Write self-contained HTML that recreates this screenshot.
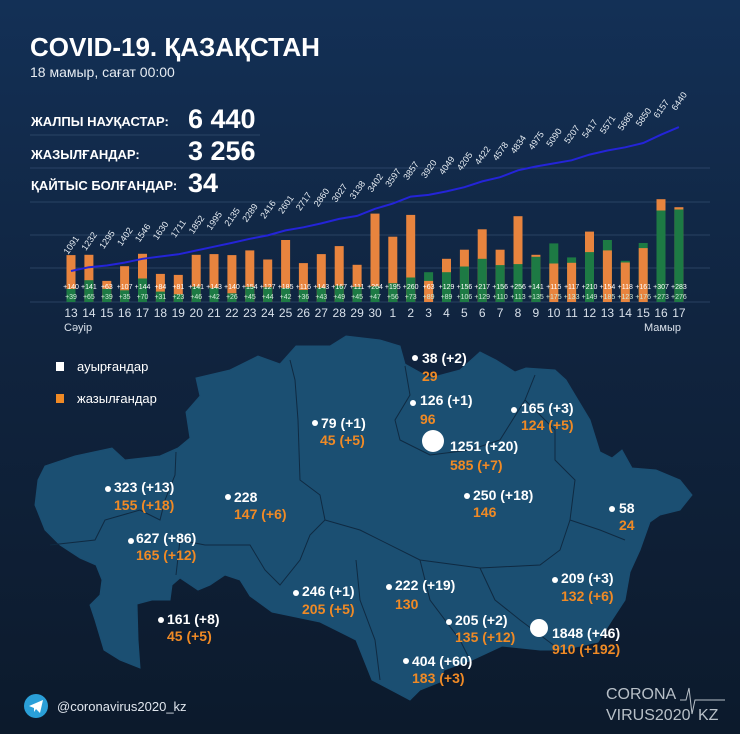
<!DOCTYPE html>
<html><head><meta charset="utf-8"><style>
html,body{margin:0;padding:0;background:#0f2238}
svg{display:block}
text{font-family:"Liberation Sans","DejaVu Sans",sans-serif}
.o{fill:#e8843e}.g{fill:#1d7a44}
.t{font-size:9px;fill:#e8eef4}
.c{font-size:7px;fill:#fff;text-anchor:middle}
.r{font-size:7px;fill:#cfe8d8;text-anchor:middle}
.d{font-size:12px;fill:#d8e0ea;text-anchor:middle}
</style></head><body>
<svg width="740" height="734" viewBox="0 0 740 734" xmlns="http://www.w3.org/2000/svg">
<defs>
<linearGradient id="bg" x1="0" y1="0" x2="0" y2="1">
<stop offset="0" stop-color="#133056"/><stop offset="0.45" stop-color="#10243f"/><stop offset="1" stop-color="#0c1a2c"/>
</linearGradient>
</defs>
<rect width="740" height="734" fill="url(#bg)"/>
<text x="30" y="56" font-size="26" font-weight="bold" fill="#fff">COVID-19. ҚАЗАҚСТАН</text>
<text x="30" y="77" font-size="14" fill="#e6ecf2">18 мамыр, сағат 00:00</text>
<text x="31" y="126" font-size="13" font-weight="bold" fill="#fff">ЖАЛПЫ НАУҚАСТАР:</text>
<text x="188" y="128" font-size="27" font-weight="bold" fill="#fff">6 440</text>
<text x="31" y="159" font-size="13" font-weight="bold" fill="#fff">ЖАЗЫЛҒАНДАР:</text>
<text x="188" y="160" font-size="27" font-weight="bold" fill="#fff">3 256</text>
<text x="31" y="190" font-size="13" font-weight="bold" fill="#fff">ҚАЙТЫС БОЛҒАНДАР:</text>
<text x="188" y="192" font-size="27" font-weight="bold" fill="#fff">34</text>
<g stroke="#3a5577" stroke-width="1" opacity="0.6">
<line x1="30" y1="135" x2="260" y2="135"/>
<line x1="30" y1="168" x2="710" y2="168"/>
<line x1="30" y1="202" x2="710" y2="202"/>
<line x1="30" y1="235" x2="710" y2="235"/>
<line x1="30" y1="268" x2="710" y2="268"/>
<line x1="30" y1="302" x2="710" y2="302"/>
</g>

<g transform="translate(71,0)"><rect class="o" x="-4.5" width="9" y="255.1" height="46.9"/><rect class="g" x="-4.5" width="9" y="288.9" height="13.1"/></g>
<g transform="translate(88.9,0)"><rect class="o" x="-4.5" width="9" y="254.8" height="47.2"/><rect class="g" x="-4.5" width="9" y="280.2" height="21.8"/></g>
<g transform="translate(106.8,0)"><rect class="o" x="-4.5" width="9" y="280.9" height="21.1"/><rect class="g" x="-4.5" width="9" y="288.9" height="13.1"/></g>
<g transform="translate(124.6,0)"><rect class="o" x="-4.5" width="9" y="266.2" height="35.8"/><rect class="g" x="-4.5" width="9" y="290.3" height="11.7"/></g>
<g transform="translate(142.5,0)"><rect class="o" x="-4.5" width="9" y="253.8" height="48.2"/><rect class="g" x="-4.5" width="9" y="278.5" height="23.5"/></g>
<g transform="translate(160.4,0)"><rect class="o" x="-4.5" width="9" y="273.9" height="28.1"/><rect class="g" x="-4.5" width="9" y="291.6" height="10.4"/></g>
<g transform="translate(178.3,0)"><rect class="o" x="-4.5" width="9" y="274.9" height="27.1"/><rect class="g" x="-4.5" width="9" y="294.3" height="7.7"/></g>
<g transform="translate(196.2,0)"><rect class="o" x="-4.5" width="9" y="254.8" height="47.2"/><rect class="g" x="-4.5" width="9" y="286.6" height="15.4"/></g>
<g transform="translate(214,0)"><rect class="o" x="-4.5" width="9" y="254.1" height="47.9"/><rect class="g" x="-4.5" width="9" y="287.9" height="14.1"/></g>
<g transform="translate(231.9,0)"><rect class="o" x="-4.5" width="9" y="255.1" height="46.9"/><rect class="g" x="-4.5" width="9" y="293.3" height="8.7"/></g>
<g transform="translate(249.8,0)"><rect class="o" x="-4.5" width="9" y="250.4" height="51.6"/><rect class="g" x="-4.5" width="9" y="286.9" height="15.1"/></g>
<g transform="translate(267.7,0)"><rect class="o" x="-4.5" width="9" y="259.5" height="42.5"/><rect class="g" x="-4.5" width="9" y="287.3" height="14.7"/></g>
<g transform="translate(285.6,0)"><rect class="o" x="-4.5" width="9" y="240" height="62"/><rect class="g" x="-4.5" width="9" y="287.9" height="14.1"/></g>
<g transform="translate(303.4,0)"><rect class="o" x="-4.5" width="9" y="263.1" height="38.9"/><rect class="g" x="-4.5" width="9" y="289.9" height="12.1"/></g>
<g transform="translate(321.3,0)"><rect class="o" x="-4.5" width="9" y="254.1" height="47.9"/><rect class="g" x="-4.5" width="9" y="287.6" height="14.4"/></g>
<g transform="translate(339.2,0)"><rect class="o" x="-4.5" width="9" y="246.1" height="55.9"/><rect class="g" x="-4.5" width="9" y="285.6" height="16.4"/></g>
<g transform="translate(357.1,0)"><rect class="o" x="-4.5" width="9" y="264.8" height="37.2"/><rect class="g" x="-4.5" width="9" y="286.9" height="15.1"/></g>
<g transform="translate(375,0)"><rect class="o" x="-4.5" width="9" y="213.6" height="88.4"/><rect class="g" x="-4.5" width="9" y="286.3" height="15.7"/></g>
<g transform="translate(392.8,0)"><rect class="o" x="-4.5" width="9" y="236.7" height="65.3"/><rect class="g" x="-4.5" width="9" y="283.2" height="18.8"/></g>
<g transform="translate(410.7,0)"><rect class="o" x="-4.5" width="9" y="214.9" height="87.1"/><rect class="g" x="-4.5" width="9" y="277.5" height="24.5"/></g>
<g transform="translate(428.6,0)"><rect class="g" x="-4.5" width="9" y="272.2" height="29.8"/><rect class="o" x="-4.5" width="9" y="280.9" height="21.1"/></g>
<g transform="translate(446.5,0)"><rect class="o" x="-4.5" width="9" y="258.8" height="43.2"/><rect class="g" x="-4.5" width="9" y="272.2" height="29.8"/></g>
<g transform="translate(464.4,0)"><rect class="o" x="-4.5" width="9" y="249.7" height="52.3"/><rect class="g" x="-4.5" width="9" y="266.5" height="35.5"/></g>
<g transform="translate(482.2,0)"><rect class="o" x="-4.5" width="9" y="229.3" height="72.7"/><rect class="g" x="-4.5" width="9" y="258.8" height="43.2"/></g>
<g transform="translate(500.1,0)"><rect class="o" x="-4.5" width="9" y="249.7" height="52.3"/><rect class="g" x="-4.5" width="9" y="265.1" height="36.9"/></g>
<g transform="translate(518,0)"><rect class="o" x="-4.5" width="9" y="216.2" height="85.8"/><rect class="g" x="-4.5" width="9" y="264.1" height="37.9"/></g>
<g transform="translate(535.9,0)"><rect class="o" x="-4.5" width="9" y="254.8" height="47.2"/><rect class="g" x="-4.5" width="9" y="256.8" height="45.2"/></g>
<g transform="translate(553.8,0)"><rect class="g" x="-4.5" width="9" y="243.4" height="58.6"/><rect class="o" x="-4.5" width="9" y="263.5" height="38.5"/></g>
<g transform="translate(571.6,0)"><rect class="g" x="-4.5" width="9" y="257.4" height="44.6"/><rect class="o" x="-4.5" width="9" y="262.8" height="39.2"/></g>
<g transform="translate(589.5,0)"><rect class="o" x="-4.5" width="9" y="231.6" height="70.4"/><rect class="g" x="-4.5" width="9" y="252.1" height="49.9"/></g>
<g transform="translate(607.4,0)"><rect class="g" x="-4.5" width="9" y="240" height="62"/><rect class="o" x="-4.5" width="9" y="250.4" height="51.6"/></g>
<g transform="translate(625.3,0)"><rect class="g" x="-4.5" width="9" y="260.8" height="41.2"/><rect class="o" x="-4.5" width="9" y="262.5" height="39.5"/></g>
<g transform="translate(643.2,0)"><rect class="g" x="-4.5" width="9" y="243" height="59"/><rect class="o" x="-4.5" width="9" y="248.1" height="53.9"/></g>
<g transform="translate(661,0)"><rect class="o" x="-4.5" width="9" y="199.2" height="102.8"/><rect class="g" x="-4.5" width="9" y="210.5" height="91.5"/></g>
<g transform="translate(678.9,0)"><rect class="o" x="-4.5" width="9" y="207.2" height="94.8"/><rect class="g" x="-4.5" width="9" y="209.5" height="92.5"/></g>

<polyline fill="none" stroke="#2424d8" stroke-width="2" points="71,271 88.9,267.2 106.8,265.5 124.6,262.6 142.5,258.8 160.4,256.5 178.3,254.3 196.2,250.5 214,246.7 231.9,242.9 249.8,238.8 267.7,235.4 285.6,230.4 303.4,227.3 321.3,223.4 339.2,218.9 357.1,215.9 375,208.8 392.8,203.6 410.7,196.6 428.6,194.9 446.5,191.4 464.4,187.2 482.2,181.4 500.1,177.2 518,170.3 535.9,166.5 553.8,163.4 571.6,160.3 589.5,154.6 607.4,150.5 625.3,147.3 643.2,143 661,134.7 678.9,127.1"/>

<g class="t">
<text class="t" transform="translate(68,255) rotate(-55)">1091</text>
<text class="t" transform="translate(85.9,251.2) rotate(-55)">1232</text>
<text class="t" transform="translate(103.8,249.5) rotate(-55)">1295</text>
<text class="t" transform="translate(121.6,246.6) rotate(-55)">1402</text>
<text class="t" transform="translate(139.5,242.8) rotate(-55)">1546</text>
<text class="t" transform="translate(157.4,240.5) rotate(-55)">1630</text>
<text class="t" transform="translate(175.3,238.3) rotate(-55)">1711</text>
<text class="t" transform="translate(193.2,234.5) rotate(-55)">1852</text>
<text class="t" transform="translate(211,230.7) rotate(-55)">1995</text>
<text class="t" transform="translate(228.9,226.9) rotate(-55)">2135</text>
<text class="t" transform="translate(246.8,222.8) rotate(-55)">2289</text>
<text class="t" transform="translate(264.7,219.4) rotate(-55)">2416</text>
<text class="t" transform="translate(282.6,214.4) rotate(-55)">2601</text>
<text class="t" transform="translate(300.4,211.3) rotate(-55)">2717</text>
<text class="t" transform="translate(318.3,207.4) rotate(-55)">2860</text>
<text class="t" transform="translate(336.2,202.9) rotate(-55)">3027</text>
<text class="t" transform="translate(354.1,199.9) rotate(-55)">3138</text>
<text class="t" transform="translate(372,192.8) rotate(-55)">3402</text>
<text class="t" transform="translate(389.8,187.6) rotate(-55)">3597</text>
<text class="t" transform="translate(407.7,180.6) rotate(-55)">3857</text>
<text class="t" transform="translate(425.6,178.9) rotate(-55)">3920</text>
<text class="t" transform="translate(443.5,175.4) rotate(-55)">4049</text>
<text class="t" transform="translate(461.4,171.2) rotate(-55)">4205</text>
<text class="t" transform="translate(479.2,165.4) rotate(-55)">4422</text>
<text class="t" transform="translate(497.1,161.2) rotate(-55)">4578</text>
<text class="t" transform="translate(515,154.3) rotate(-55)">4834</text>
<text class="t" transform="translate(532.9,150.5) rotate(-55)">4975</text>
<text class="t" transform="translate(550.8,147.4) rotate(-55)">5090</text>
<text class="t" transform="translate(568.6,144.3) rotate(-55)">5207</text>
<text class="t" transform="translate(586.5,138.6) rotate(-55)">5417</text>
<text class="t" transform="translate(604.4,134.5) rotate(-55)">5571</text>
<text class="t" transform="translate(622.3,131.3) rotate(-55)">5689</text>
<text class="t" transform="translate(640.2,127) rotate(-55)">5850</text>
<text class="t" transform="translate(658,118.7) rotate(-55)">6157</text>
<text class="t" transform="translate(675.9,111.1) rotate(-55)">6440</text>
</g>

<text class="c" x="71" y="289">+140</text><text class="r" x="71" y="299">+39</text><text class="d" x="71" y="317">13</text>
<text class="c" x="88.9" y="289">+141</text><text class="r" x="88.9" y="299">+65</text><text class="d" x="88.9" y="317">14</text>
<text class="c" x="106.8" y="289">+63</text><text class="r" x="106.8" y="299">+39</text><text class="d" x="106.8" y="317">15</text>
<text class="c" x="124.6" y="289">+107</text><text class="r" x="124.6" y="299">+35</text><text class="d" x="124.6" y="317">16</text>
<text class="c" x="142.5" y="289">+144</text><text class="r" x="142.5" y="299">+70</text><text class="d" x="142.5" y="317">17</text>
<text class="c" x="160.4" y="289">+84</text><text class="r" x="160.4" y="299">+31</text><text class="d" x="160.4" y="317">18</text>
<text class="c" x="178.3" y="289">+81</text><text class="r" x="178.3" y="299">+23</text><text class="d" x="178.3" y="317">19</text>
<text class="c" x="196.2" y="289">+141</text><text class="r" x="196.2" y="299">+46</text><text class="d" x="196.2" y="317">20</text>
<text class="c" x="214" y="289">+143</text><text class="r" x="214" y="299">+42</text><text class="d" x="214" y="317">21</text>
<text class="c" x="231.9" y="289">+140</text><text class="r" x="231.9" y="299">+26</text><text class="d" x="231.9" y="317">22</text>
<text class="c" x="249.8" y="289">+154</text><text class="r" x="249.8" y="299">+45</text><text class="d" x="249.8" y="317">23</text>
<text class="c" x="267.7" y="289">+127</text><text class="r" x="267.7" y="299">+44</text><text class="d" x="267.7" y="317">24</text>
<text class="c" x="285.6" y="289">+185</text><text class="r" x="285.6" y="299">+42</text><text class="d" x="285.6" y="317">25</text>
<text class="c" x="303.4" y="289">+116</text><text class="r" x="303.4" y="299">+36</text><text class="d" x="303.4" y="317">26</text>
<text class="c" x="321.3" y="289">+143</text><text class="r" x="321.3" y="299">+43</text><text class="d" x="321.3" y="317">27</text>
<text class="c" x="339.2" y="289">+167</text><text class="r" x="339.2" y="299">+49</text><text class="d" x="339.2" y="317">28</text>
<text class="c" x="357.1" y="289">+111</text><text class="r" x="357.1" y="299">+45</text><text class="d" x="357.1" y="317">29</text>
<text class="c" x="375" y="289">+264</text><text class="r" x="375" y="299">+47</text><text class="d" x="375" y="317">30</text>
<text class="c" x="392.8" y="289">+195</text><text class="r" x="392.8" y="299">+56</text><text class="d" x="392.8" y="317">1</text>
<text class="c" x="410.7" y="289">+260</text><text class="r" x="410.7" y="299">+73</text><text class="d" x="410.7" y="317">2</text>
<text class="c" x="428.6" y="289">+63</text><text class="r" x="428.6" y="299">+89</text><text class="d" x="428.6" y="317">3</text>
<text class="c" x="446.5" y="289">+129</text><text class="r" x="446.5" y="299">+89</text><text class="d" x="446.5" y="317">4</text>
<text class="c" x="464.4" y="289">+156</text><text class="r" x="464.4" y="299">+106</text><text class="d" x="464.4" y="317">5</text>
<text class="c" x="482.2" y="289">+217</text><text class="r" x="482.2" y="299">+129</text><text class="d" x="482.2" y="317">6</text>
<text class="c" x="500.1" y="289">+156</text><text class="r" x="500.1" y="299">+110</text><text class="d" x="500.1" y="317">7</text>
<text class="c" x="518" y="289">+256</text><text class="r" x="518" y="299">+113</text><text class="d" x="518" y="317">8</text>
<text class="c" x="535.9" y="289">+141</text><text class="r" x="535.9" y="299">+135</text><text class="d" x="535.9" y="317">9</text>
<text class="c" x="553.8" y="289">+115</text><text class="r" x="553.8" y="299">+175</text><text class="d" x="553.8" y="317">10</text>
<text class="c" x="571.6" y="289">+117</text><text class="r" x="571.6" y="299">+133</text><text class="d" x="571.6" y="317">11</text>
<text class="c" x="589.5" y="289">+210</text><text class="r" x="589.5" y="299">+149</text><text class="d" x="589.5" y="317">12</text>
<text class="c" x="607.4" y="289">+154</text><text class="r" x="607.4" y="299">+185</text><text class="d" x="607.4" y="317">13</text>
<text class="c" x="625.3" y="289">+118</text><text class="r" x="625.3" y="299">+123</text><text class="d" x="625.3" y="317">14</text>
<text class="c" x="643.2" y="289">+161</text><text class="r" x="643.2" y="299">+176</text><text class="d" x="643.2" y="317">15</text>
<text class="c" x="661" y="289">+307</text><text class="r" x="661" y="299">+273</text><text class="d" x="661" y="317">16</text>
<text class="c" x="678.9" y="289">+283</text><text class="r" x="678.9" y="299">+276</text><text class="d" x="678.9" y="317">17</text>

<text x="64" y="331" font-size="11" fill="#d8e0ea">Сәуір</text>
<text x="644" y="331" font-size="11" fill="#d8e0ea">Мамыр</text>

<path fill="#1b4f72" stroke="#1b4f72" stroke-width="1" d="M35,505 L38,480 L45,466 L75,456 L112,448 L125,460 L160,456 L178,448 L190,438 L186,412 L200,396 L196,378 L230,370 L258,356 L280,364 L296,346 L330,346 L346,336 L380,340 L400,346 L405,364 L430,378 L460,370 L480,352 L496,360 L515,372 L526,368 L555,370 L566,380 L590,420 L600,452 L612,458 L622,450 L632,468 L656,470 L680,480 L692,495 L680,510 L660,515 L650,522 L640,550 L630,572 L625,600 L612,620 L598,642 L562,650 L540,650 L502,646 L472,660 L444,670 L440,682 L420,690 L410,700 L395,692 L372,680 L356,640 L320,622 L272,612 L250,596 L240,580 L225,575 L210,585 L198,590 L180,578 L172,585 L170,600 L152,600 L137,604 L138,640 L140,668 L120,660 L104,650 L95,620 L90,605 L100,595 L102,580 L96,565 L80,558 L60,545 L45,530 Z"/>
<g fill="none" stroke="#0f2a42" stroke-width="1">
<path d="M50,545 L95,540 L105,520 L140,510 L160,520 L165,500 L175,475 L176,452"/>
<path d="M176,575 L180,540 L205,545 L250,545 L265,570 L280,585 L300,560 L310,535 L325,520 L320,495 L300,480 L298,420 L295,380 L290,360"/>
<path d="M325,520 L360,530 L420,560 L480,568 L540,565 L560,550 L570,520 L575,480 L555,460 L555,430 L540,415 L525,400 L535,375"/>
<path d="M356,560 L360,600 L375,640 L380,680"/>
<path d="M420,560 L430,600 L460,640 L470,660"/>
<path d="M480,568 L495,600 L520,620 L560,650"/>
<path d="M405,366 L410,395 L395,420 L400,440 L430,455 L470,450 L500,440 L525,400"/>
<path d="M570,520 L600,530 L625,540"/>
</g>

<rect x="56" y="362" width="8" height="9" fill="#fff"/>
<text x="77" y="371" font-size="13" fill="#fff">ауырғандар</text>
<rect x="56" y="394" width="8" height="9" fill="#f08a25"/>
<text x="77" y="403" font-size="13" fill="#fff">жазылғандар</text>

<g font-size="14" font-weight="bold" fill="#fff">
<circle cx="415" cy="358" r="3"/><text x="422" y="363">38 (+2)</text>
<circle cx="413" cy="403" r="3"/><text x="420" y="405">126 (+1)</text>
<circle cx="514" cy="410" r="3"/><text x="521" y="413">165 (+3)</text>
<circle cx="315" cy="423" r="3"/><text x="321" y="428">79 (+1)</text>
<circle cx="433" cy="441" r="11"/><text x="450" y="451">1251 (+20)</text>
<circle cx="108" cy="489" r="3"/><text x="114" y="492">323 (+13)</text>
<circle cx="228" cy="497" r="3"/><text x="234" y="502">228</text>
<circle cx="467" cy="496" r="3"/><text x="473" y="500">250 (+18)</text>
<circle cx="612" cy="509" r="3"/><text x="619" y="513">58</text>
<circle cx="131" cy="541" r="3"/><text x="136" y="543">627 (+86)</text>
<circle cx="555" cy="580" r="3"/><text x="561" y="583">209 (+3)</text>
<circle cx="296" cy="593" r="3"/><text x="302" y="596">246 (+1)</text>
<circle cx="389" cy="587" r="3"/><text x="395" y="590">222 (+19)</text>
<circle cx="161" cy="620" r="3"/><text x="167" y="624">161 (+8)</text>
<circle cx="449" cy="622" r="3"/><text x="455" y="625">205 (+2)</text>
<circle cx="539" cy="628" r="9"/><text x="552" y="638">1848 (+46)</text>
<circle cx="406" cy="661" r="3"/><text x="412" y="666">404 (+60)</text>
</g>
<g font-size="14" font-weight="bold" fill="#f08a25">
<text x="422" y="381">29</text>
<text x="420" y="424">96</text>
<text x="521" y="430">124 (+5)</text>
<text x="320" y="445">45 (+5)</text>
<text x="450" y="470">585 (+7)</text>
<text x="114" y="510">155 (+18)</text>
<text x="234" y="519">147 (+6)</text>
<text x="473" y="517">146</text>
<text x="619" y="530">24</text>
<text x="136" y="560">165 (+12)</text>
<text x="561" y="601">132 (+6)</text>
<text x="302" y="614">205 (+5)</text>
<text x="395" y="609">130</text>
<text x="167" y="641">45 (+5)</text>
<text x="455" y="642">135 (+12)</text>
<text x="552" y="654">910 (+192)</text>
<text x="412" y="683">183 (+3)</text>
</g>

<circle cx="36" cy="706" r="12" fill="#2a9fd8"/>
<path d="M29,706 L43,700 L40,713 L36,709 L34,712 L34,708 Z" fill="#fff"/>
<text x="57" y="711" font-size="13" fill="#e0e6ee">@coronavirus2020_kz</text>
<text x="606" y="699" font-size="16" fill="#b8c0c8">CORONA</text>
<text x="606" y="720" font-size="16" fill="#b8c0c8">VIRUS2020</text>
<text x="698" y="720" font-size="16" fill="#b8c0c8">KZ</text>
<polyline points="680,700 686,700 689,688 692,714 695,700 725,700" fill="none" stroke="#b8c0c8" stroke-width="1"/>
</svg>
</body></html>
